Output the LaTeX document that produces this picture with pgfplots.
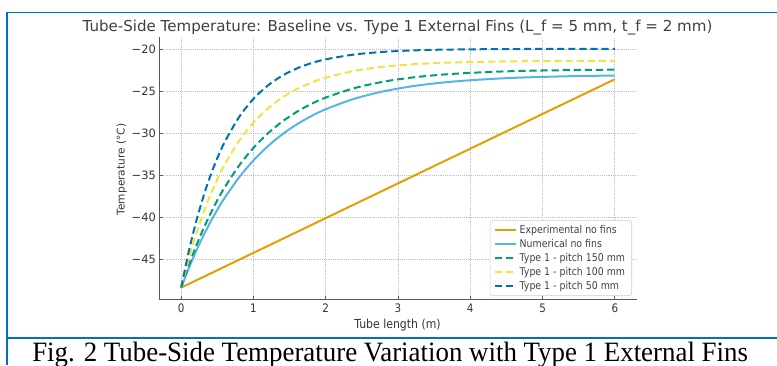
\documentclass[border=0pt]{standalone}
\usepackage{fontspec}
\usepackage{pgfplots}
\pgfplotsset{compat=1.18}
\newfontfamily\chartfont{DejaVu Sans}[FakeStretch=0.88]
\newfontfamily\chartfontn{DejaVu Sans}
\newfontfamily\capfont{Liberation Serif}[FakeStretch=0.96]
\definecolor{cOrange}{HTML}{E69F00}
\definecolor{cLight}{HTML}{56B4E9}
\definecolor{cGreen}{HTML}{009E73}
\definecolor{cYellow}{HTML}{F0E442}
\definecolor{cBlue}{HTML}{0072B2}
\definecolor{frameblue}{HTML}{0070C0}
\begin{document}
\begin{tikzpicture}
\begin{scope}[x=0.75pt,y=0.75pt]
\path[use as bounding box] (0,0) rectangle (777,365);
\draw[frameblue, line width=1.5pt] (6.5,0) -- (6.5,352.5);
\draw[frameblue, line width=1.1pt] (5.75,352.5) -- (777,352.5);
\draw[frameblue, line width=1.5pt] (6.5,27.5) -- (777,27.5);
\node[anchor=base, inner sep=0, text=black!75, font=\chartfontn\fontsize{11.3}{13}\selectfont] at (397.5,333.3) {Tube-Side Temperature: Baseline vs. Type 1 External Fins (L\_f = 5 mm, t\_f = 2 mm)};
\node[anchor=base, inner sep=0, text=black!80, font=\chartfont\fontsize{9.3}{11}\selectfont] at (397.5,37) {Tube length (m)};
\node[rotate=90, anchor=center, inner sep=0, text=black!80, font=\chartfontn\fontsize{7.95}{9.5}\selectfont] at (121.7,195.5) {Temperature (°C)};
\node[anchor=base west, inner sep=0, font=\capfont\fontsize{21}{24}\selectfont] at (32,3.5) {Fig. 2 Tube-Side Temperature Variation with Type 1 External Fins};
\end{scope}
\begin{axis}[
  at={(119.625pt,49.125pt)}, anchor=south west,
  scale only axis, width=357.75pt, height=196.95pt,
  xmin=-0.3, xmax=6.3, ymin=-49.82, ymax=-18.56,
  axis lines*=left,
  axis line style={draw=black!65, line width=0.75pt, -},
  xtick={0,1,2,3,4,5,6}, xticklabels={0,1,2,3,4,5,6},
  ytick={-45,-40,-35,-30,-25,-20},
  yticklabels={−45,−40,−35,−30,−25,−20},
  tick align=inside, major tick length=2.5pt,
  tick style={draw=black!65, line width=0.6pt},
  xticklabel style={font=\chartfont\fontsize{8.8}{10}\selectfont, text=black!80},
  yticklabel style={font=\chartfontn\fontsize{8.6}{10}\selectfont, text=black!80, inner xsep=2.5pt},
  grid=major, major grid style={densely dotted, black!25, line width=0.5pt},
  legend cell align=left,
  legend image code/.code={\draw[#1] (0pt,0pt) -- (15.75pt,0pt);},
  legend style={at={(rel axis cs:0.9906,0.0133)}, anchor=south east,
    draw=black!20, rounded corners=2pt, fill=white,
    font=\chartfont\fontsize{8}{9.6}\selectfont, text=black!75,
    inner xsep=3pt, inner ysep=1.5pt, row sep=-1.1pt},
  every axis plot/.append style={line width=1.5pt},
]
\addplot[cOrange] coordinates {(0,-48.4) (6,-23.6)};
\addlegendentry{Experimental no fins}
\addplot[cLight, smooth] coordinates {
(0,-48.4) (0.1,-46.20) (0.2,-44.19) (0.3,-42.35) (0.4,-40.67) (0.5,-39.14) (0.6,-37.74) (0.8,-35.30) (1.0,-33.26) (1.2,-31.57) (1.4,-30.15) (1.6,-28.97) (1.8,-27.99) (2.0,-27.17) (2.4,-25.91) (2.8,-25.04) (3.2,-24.43) (3.6,-24.01) (4.0,-23.72) (4.5,-23.47) (5.0,-23.32) (5.5,-23.22) (6.0,-23.16)};
\addlegendentry{Numerical no fins}
\addplot[cGreen, smooth, dash pattern=on 5.4pt off 2.9pt] coordinates {
(0,-48.4) (0.1,-45.88) (0.2,-43.60) (0.3,-41.54) (0.4,-39.69) (0.5,-38.01) (0.6,-36.50) (0.8,-33.89) (1.0,-31.77) (1.2,-30.04) (1.4,-28.63) (1.6,-27.48) (1.8,-26.54) (2.0,-25.78) (2.4,-24.65) (2.8,-23.89) (3.2,-23.39) (3.6,-23.06) (4.0,-22.84) (4.5,-22.66) (5.0,-22.56) (5.5,-22.50) (6.0,-22.46)};
\addlegendentry{Type 1 - pitch 150 mm}
\addplot[cYellow, smooth, dash pattern=on 5.4pt off 2.9pt] coordinates {
(0,-48.4) (0.1,-45.11) (0.2,-42.23) (0.3,-39.69) (0.4,-37.46) (0.5,-35.50) (0.6,-33.79) (0.8,-30.95) (1.0,-28.77) (1.2,-27.08) (1.4,-25.78) (1.6,-24.78) (1.8,-24.01) (2.0,-23.41) (2.4,-22.60) (2.8,-22.11) (3.2,-21.82) (3.6,-21.65) (4.0,-21.55) (4.5,-21.48) (5.0,-21.44) (5.5,-21.42) (6.0,-21.41)};
\addlegendentry{Type 1 - pitch 100 mm}
\addplot[cBlue, smooth, dash pattern=on 5.4pt off 2.9pt] coordinates {
(0,-48.4) (0.1,-44.29) (0.2,-40.77) (0.3,-37.77) (0.4,-35.19) (0.5,-32.99) (0.6,-31.11) (0.8,-28.12) (1.0,-25.94) (1.2,-24.34) (1.4,-23.17) (1.6,-22.31) (1.8,-21.69) (2.0,-21.23) (2.4,-20.65) (2.8,-20.34) (3.2,-20.17) (3.6,-20.08) (4.0,-20.04) (4.5,-20.01) (5.0,-19.99) (5.5,-19.99) (6.0,-19.98)};
\addlegendentry{Type 1 - pitch 50 mm}
\end{axis}
\end{tikzpicture}
\end{document}
